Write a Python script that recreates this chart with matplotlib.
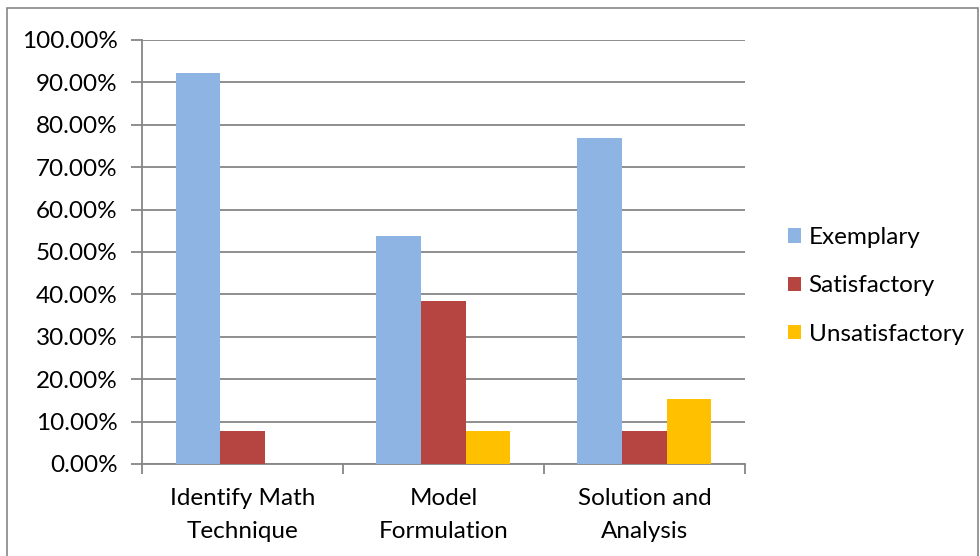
import matplotlib.pyplot as plt
import matplotlib.patches as mpatches
import numpy as np

# Rubric scores per criterion (share of students)
categories = ['Identify Math\nTechnique', 'Model\nFormulation', 'Solution and\nAnalysis']
exemplary = [0.9231, 0.5385, 0.7692]
satisfactory = [0.0769, 0.3846, 0.0769]
unsatisfactory = [0.0, 0.0769, 0.1538]
series_names = ['Exemplary', 'Satisfactory', 'Unsatisfactory']
colors = ['#8EB4E3', '#B64541', '#FFC000']

plt.rcParams['font.family'] = ['Lato', 'DejaVu Sans']
fs = 17.5

fig = plt.figure(figsize=(9.8, 5.56), dpi=100)
ax = fig.add_axes([0.1449, 0.1655, 0.6153, 0.7626])

# outer chart border
fig.patches.append(mpatches.Rectangle((7 / 980, -0.01), 971 / 980, 1 - 8 / 556 + 0.01,
                                      transform=fig.transFigure, fill=False,
                                      edgecolor='#868686', linewidth=1.2))

x = np.arange(len(categories))
width = 1 / (3 + 1.5)
for i, (vals, name, c) in enumerate(zip([exemplary, satisfactory, unsatisfactory], series_names, colors)):
    ax.bar(x + (i - 1) * width, vals, width, color=c, label=name, zorder=3)

ax.set_xlim(-0.5, len(categories) - 0.5)
ax.set_ylim(0, 1.0)
ax.set_yticks(np.arange(0, 1.01, 0.1))
ax.set_yticklabels(['%.2f%%' % (v * 100) for v in np.arange(0, 1.01, 0.1)], fontsize=fs)
ax.yaxis.grid(True, color='#868686', linewidth=1.3, zorder=0)

ax.set_xticks(x)
ax.set_xticklabels(categories, fontsize=fs, linespacing=1.75)
ax.set_xticks(np.arange(-0.5, len(categories)), minor=True)
ax.tick_params(axis='x', which='major', length=0, pad=17)
ax.tick_params(axis='x', which='minor', length=7, width=1.3, color='#868686')
ax.tick_params(axis='y', length=8, width=1.3, color='#868686', pad=9.5)

for side in ['top', 'right']:
    ax.spines[side].set_visible(False)
for side in ['left', 'bottom']:
    ax.spines[side].set_color('#868686')
    ax.spines[side].set_linewidth(1.3)

ax.legend(loc='center left', bbox_to_anchor=(766 / 980, 1 - 286 / 556),
          bbox_transform=fig.transFigure, frameon=False, fontsize=fs,
          handlelength=0.55, handleheight=0.55, handletextpad=0.3, labelspacing=1.12)

fig.savefig('out.png', dpi=100)
